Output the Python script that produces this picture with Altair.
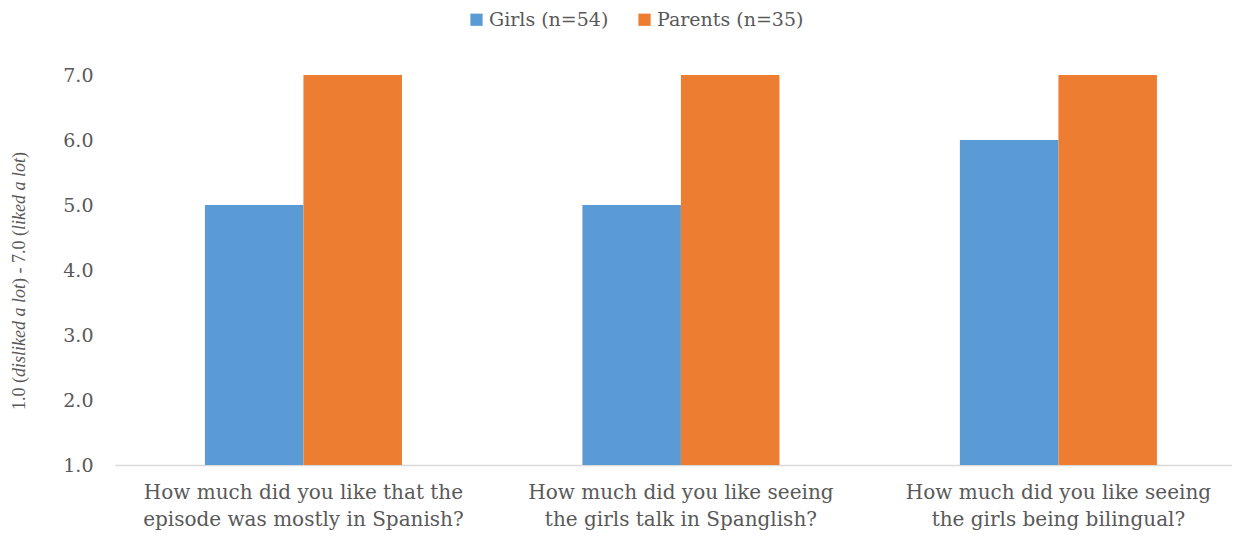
import altair as alt
import pandas as pd

questions = [
    "How much did you like that the\nepisode was mostly in Spanish?",
    "How much did you like seeing\nthe girls talk in Spanglish?",
    "How much did you like seeing\nthe girls being bilingual?",
]
series = ["Girls (n=54)", "Parents (n=35)"]
girls = [5.0, 5.0, 6.0]
parents = [7.0, 7.0, 7.0]
colors = ["#5B9BD5", "#ED7D31"]
y_ticks = [1, 2, 3, 4, 5, 6, 7]

rows = []
for q, g, p in zip(questions, girls, parents):
    rows.append({"question": q, "series": series[0], "value": g})
    rows.append({"question": q, "series": series[1], "value": p})
df = pd.DataFrame(rows)

FONT = "DejaVu Serif"
GRAY = "#595959"

bars = alt.Chart(df).mark_bar().encode(
    x=alt.X(
        "question:N",
        sort=questions,
        scale=alt.Scale(paddingInner=0.478, paddingOuter=0.2185, align=0.545),
        axis=alt.Axis(
            title=None,
            labelAngle=0,
            labelExpr="split(datum.value, '\\n')",
            labelFont=FONT,
            labelFontSize=20,
            labelColor=GRAY,
            labelPadding=27,
            labelLineHeight=27,
            labelLimit=600,
            ticks=False,
            grid=False,
            domainColor="#D9D9D9",
            domainWidth=1.5,
            labelBaseline="middle",
        ),
    ),
    xOffset=alt.XOffset("series:N", sort=series, scale=alt.Scale(paddingInner=0, paddingOuter=0)),
    y=alt.Y(
        "value:Q",
        scale=alt.Scale(domain=[1, 7], zero=False, nice=False),
        axis=alt.Axis(
            title=None,
            values=y_ticks,
            format=".1f",
            grid=False,
            domain=False,
            ticks=False,
            labelFont=FONT,
            labelFontSize=19,
            labelColor=GRAY,
            labelPadding=22,
        ),
    ),
    y2=alt.datum(1),
    color=alt.Color(
        "series:N",
        sort=series,
        scale=alt.Scale(domain=series, range=colors),
        legend=alt.Legend(
            title=None,
            orient="none",
            legendX=352,
            legendY=-65,
            direction="horizontal",
            symbolType="square",
            symbolSize=150,
            symbolStrokeWidth=0,
            labelFont=FONT,
            labelFontSize=19,
            labelColor=GRAY,
            columnPadding=26,
            labelOffset=3,
        ),
    ),
)

# y-axis title with italic parts (Times-metric font, positions along the rotated line)
title_parts = [
    ("1.0 (", "normal", 335),
    ("disliked a lot", "italic", 302),
    (") - 7.0 (", "normal", 209),
    ("liked a lot", "italic", 155),
    (")", "normal", 83),
]
layers = [bars]
for txt, style, ypos in title_parts:
    layers.append(
        alt.Chart(pd.DataFrame({"t": [txt]})).mark_text(
            angle=270, align="left", baseline="middle", font="Liberation Serif", fontSize=18,
            fontStyle=style, color=GRAY,
        ).encode(text="t:N", x=alt.value(-95), y=alt.value(ypos))
    )

chart = alt.layer(*layers).properties(
    width=1117,
    height=390,
    background="white",
    autosize=alt.AutoSizeParams(type="none"),
    padding={"left": 107, "top": 67, "right": 0, "bottom": 65},
).configure_view(stroke=None, strokeWidth=0).configure_axis(grid=False)

chart.save("out.html", embed_options={"renderer": "svg", "actions": False})
